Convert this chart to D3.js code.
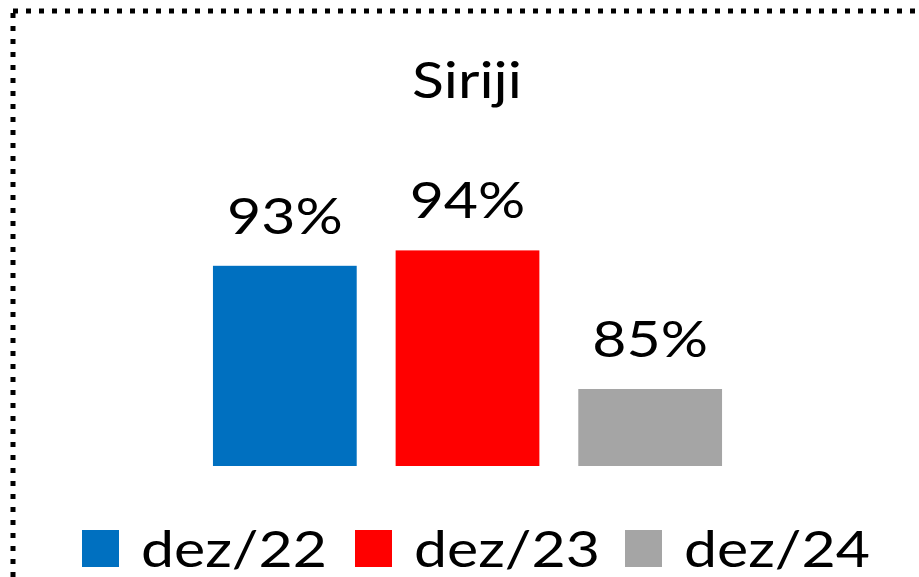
<!DOCTYPE html>
<html>
<head>
<meta charset="utf-8">
<script src="https://cdn.jsdelivr.net/npm/d3@7"></script>
<style>
  body { margin: 0; background: #fff; }
  svg { display: block; font-family: Lato, "Noto Sans", sans-serif; }
</style>
</head>
<body>
<svg id="chart" width="919" height="577"></svg>
<script>
var categories = ["dez/22", "dez/23", "dez/24"];
var values = [93, 94, 85];
var colors = ["#0070C0", "#FF0000", "#A5A5A5"];
var title = "Siriji";

var FS = 50, SX = 1.18;   // font is stretched a bit wider in the original

var svg = d3.select("#chart");

// puts a wide text at x,y
function wideText(sel, x, y, anchor, txt) {
  var g = sel.append("g")
    .attr("transform", "translate(" + x + "," + y + ") scale(" + SX + ",1)");
  g.append("text")
    .attr("text-anchor", anchor)
    .attr("font-size", FS)
    .text(txt);
  return g;
}

// dotted frame, only top and left edges fall inside the picture
svg.append("rect")
  .attr("x", 13).attr("y", 11)
  .attr("width", 1000).attr("height", 700)
  .attr("fill", "none")
  .attr("stroke", "#000")
  .attr("stroke-width", 5)
  .attr("stroke-dasharray", "5,8");

wideText(svg, 467, 98, "middle", title);

var x = d3.scaleBand()
  .domain(categories)
  .range([193.5, 741.5])
  .paddingInner(0.213)
  .paddingOuter(0.1065);

var y = d3.scaleLinear()
  .domain([80, 100])
  .range([466, 158]);

var bars = svg.append("g");
bars.selectAll("rect")
  .data(values)
  .join("rect")
  .attr("x", function(d, i) { return x(categories[i]); })
  .attr("y", function(d) { return y(d); })
  .attr("width", x.bandwidth())
  .attr("height", function(d) { return y(80) - y(d); })
  .attr("fill", function(d, i) { return colors[i]; });

values.forEach(function(d, i) {
  wideText(bars, x(categories[i]) + x.bandwidth() / 2, y(d) - 32, "middle", d + "%");
});

// legend
var legX = [82, 355, 625];
var legend = svg.append("g");
categories.forEach(function(c, i) {
  legend.append("rect")
    .attr("x", legX[i]).attr("y", 530)
    .attr("width", 37).attr("height", 37)
    .attr("fill", colors[i]);
  wideText(legend, legX[i] + 59, 567, "start", c);
});
</script>
</body>
</html>
